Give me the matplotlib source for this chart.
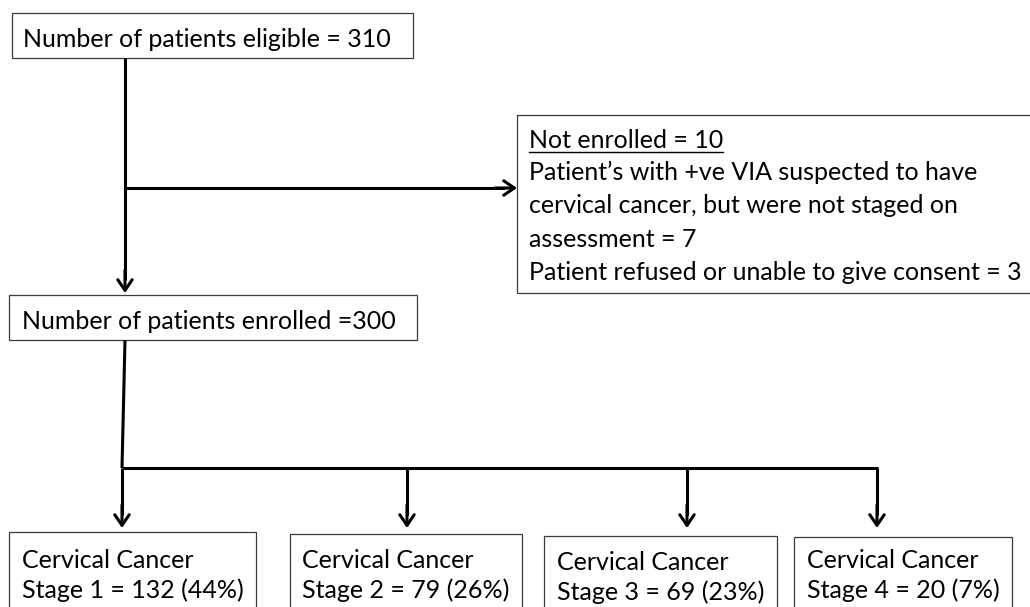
"""Patient flow chart: eligibility, enrolment and cervical cancer staging"""

import matplotlib
matplotlib.use("Agg")
from matplotlib import pyplot as plt
from matplotlib.patches import Rectangle

plt.rcParams["font.family"] = ["Lato", "DejaVu Sans"]

# Counts shown in the chart
n_eligible = 310
n_not_enrolled = 10
n_not_staged = 7
n_refused = 3
n_enrolled = 300
stages = ["1", "2", "3", "4"]
stage_counts = [132, 79, 69, 20]
stage_pct = [44, 26, 23, 7]

FS = 18.0
LW = 2.2
BOX_EDGE = "#3c3c3c"

fig = plt.figure(figsize=(10.30, 6.07), dpi=100)
ax = fig.add_axes([0, 0, 1, 1])
ax.set_xlim(0, 1030)
ax.set_ylim(607, 0)
ax.axis("off")


def box(x0, y0, x1, y1):
    ax.add_patch(Rectangle((x0, y0), x1 - x0, y1 - y0, fill=False,
                           edgecolor=BOX_EDGE, lw=0.9, clip_on=False))


def line(xs, ys):
    ax.plot(xs, ys, color="black", lw=LW, solid_capstyle="butt",
            solid_joinstyle="miter")


def arrow(x0, y0, x1, y1):
    ax.annotate("", xy=(x1, y1), xytext=(x0, y0),
                arrowprops=dict(arrowstyle="->,head_length=0.38,head_width=0.26",
                                lw=LW, color="black", shrinkA=0, shrinkB=0,
                                mutation_scale=20))


def label(x, y, s, **kw):
    return ax.text(x, y, s, fontsize=FS, va="baseline", ha="left", **kw)


# top box
box(12, 13, 413, 58)
label(23, 47, f"Number of patients eligible = {n_eligible}")

# trunk down to the enrolled box, with a side branch to the exclusions
line([125, 125], [58, 280])
arrow(125, 270, 125, 293)
line([125, 505], [188, 188])
arrow(495, 188, 517, 188)

# exclusions box (runs past the right edge)
box(517, 115, 1045, 293)
t = label(529, 148, f"Not enrolled = {n_not_enrolled}")
label(529, 180, "Patient\u2019s with +ve VIA suspected to have")
label(529, 213, "cervical cancer, but were not staged on")
label(529, 247, f"assessment = {n_not_staged}")
label(529, 280, f"Patient refused or unable to give consent = {n_refused}")

fig.canvas.draw()
bb = t.get_window_extent().transformed(ax.transData.inverted())
ax.plot([bb.x0, bb.x1], [151.5, 151.5], color="black", lw=1.0)

# enrolled box
box(9, 295, 417, 340)
label(22, 329, f"Number of patients enrolled ={n_enrolled}")

# split into stages
line([125, 122], [340, 468])
arrow_x = [122, 407, 687, 877]
line([arrow_x[0], arrow_x[-1] + 1], [468, 468])
for ax_x in arrow_x:
    line([ax_x, ax_x], [468, 515])
    arrow(ax_x, 505, ax_x, 528)

# stage boxes
box_left = [9, 290, 544, 794]
box_right = [256, 522, 777, 1012]
box_top = [532, 534, 536, 537]
text_x = [22, 302, 557, 807]
for i, st in enumerate(stages):
    box(box_left[i], box_top[i], box_right[i], 640)
    dy = 2 if i == 2 else 0
    label(text_x[i], 568 + dy, "Cervical Cancer")
    label(text_x[i], 598 + dy,
          f"Stage {st} = {stage_counts[i]} ({stage_pct[i]}%)")

fig.savefig("out.png", dpi=100)
